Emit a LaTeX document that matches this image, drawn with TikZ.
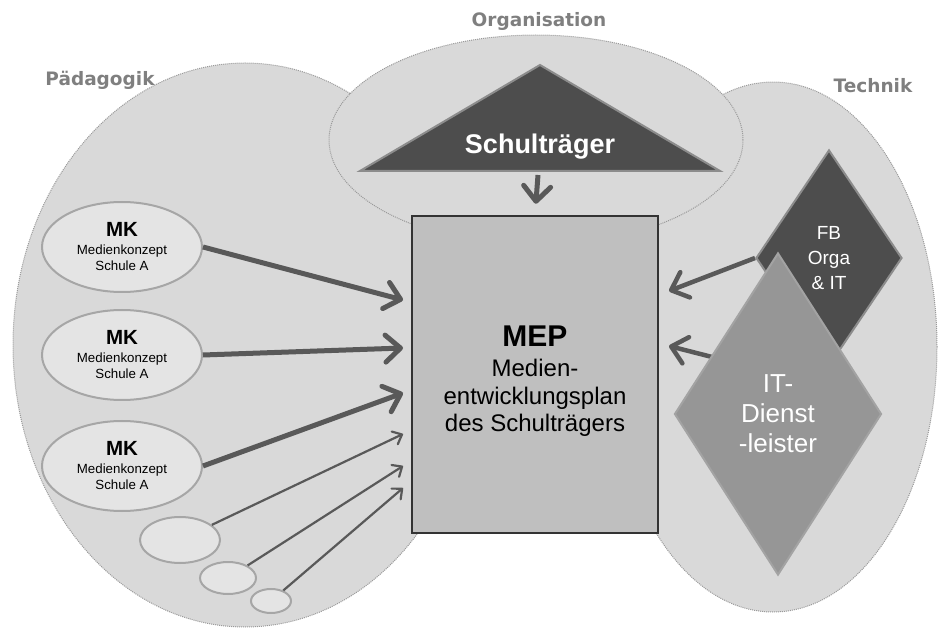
\documentclass[tikz,border=0pt]{standalone}
\usepackage{fontspec}
\setmainfont{Liberation Sans}
\newfontfamily\areafont{DejaVu Sans}
\usepackage{tikz}
\usetikzlibrary{positioning,shapes,arrows.meta}

\definecolor{areafill}{HTML}{D9D9D9}
\definecolor{dotline}{HTML}{9A9A9A}
\definecolor{labelgray}{HTML}{7F7F7F}
\definecolor{darkfill}{HTML}{4D4D4D}
\definecolor{darkline}{HTML}{8C8C8C}
\definecolor{mepfill}{HTML}{BFBFBF}
\definecolor{mepline}{HTML}{333333}
\definecolor{mkfill}{HTML}{E4E4E4}
\definecolor{mkline}{HTML}{A6A6A6}
\definecolor{itfill}{HTML}{969696}
\definecolor{itline}{HTML}{A3A3A3}
\definecolor{arrowgray}{HTML}{595959}

\begin{document}
\begin{tikzpicture}[x=1pt,y=-1pt,node distance=17pt,
    area/.style={ellipse,fill=areafill,draw=dotline,densely dotted,line width=1pt,inner sep=0pt},
    area label/.style={font=\areafont\bfseries\fontsize{18.5}{20}\selectfont,text=labelgray},
    mk node/.style={ellipse,fill=mkfill,draw=mkline,line width=2pt,minimum width=160pt,minimum height=90pt,
      inner sep=0pt,align=center,font=\fontsize{13.3}{16}\selectfont},
    small node/.style={ellipse,fill=mkfill,draw=mkline,line width=2pt,inner sep=0pt},
    big arrow/.style={-{Straight Barb[length=15pt,width=27pt,round]},line width=5pt,draw=arrowgray},
    thin arrow/.style={-{Straight Barb[length=8pt,width=14pt,round]},line width=2.2pt,draw=arrowgray}]
  \useasboundingbox (0,0) rectangle (938,628);

  % the three areas
  \node[area,minimum width=464pt,minimum height=564pt] (paed) at (245,345) {};
  \node[area,minimum width=328pt,minimum height=530pt] (tech) at (773,347) {};
  \node[area,minimum width=414pt,minimum height=210pt] (orga) at (536,140) {};
  \node[area label] (lpaed) at (100,80) {Pädagogik};
  \node[area label] (lorga) at (539,21) {Organisation};
  \node[area label] (ltech) at (873,86) {Technik};

  % Schultraeger
  \filldraw[fill=darkfill,draw=darkline,line width=2pt] (540,65) -- (720,171) -- (360,171) -- cycle;
  \node[text=white,font=\bfseries\fontsize{27}{30}\selectfont] (traeger) at (540,147) {Schulträger};
  \coordinate (tdown) at (538,175);

  % MEP
  \node[draw=mepline,fill=mepfill,line width=2.5pt,minimum width=246pt,minimum height=317pt,
    align=center,font=\fontsize{24}{27.5}\selectfont] (mep) at (535,374.5)
    {{\bfseries\fontsize{30}{30}\selectfont\rule{0pt}{34pt}MEP}\\[3pt]Medien-\\entwicklungsplan\\des Schulträgers};

  % Medienkonzepte
  \node[mk node] (mk1) at (122,247) {{\bfseries\fontsize{20.5}{20}\selectfont MK}\\[2pt]Medienkonzept\\Schule A};
  \node[mk node] (mk2) [below=16pt of mk1] {{\bfseries\fontsize{20.5}{20}\selectfont MK}\\[2pt]Medienkonzept\\Schule A};
  \node[mk node] (mk3) [below=19pt of mk2] {{\bfseries\fontsize{20.5}{20}\selectfont MK}\\[2pt]Medienkonzept\\Schule A};
  \node[small node,minimum width=80pt,minimum height=46pt] (s1) at (180,540) {};
  \node[small node,minimum width=56pt,minimum height=32pt] (s2) at (228,578) {};
  \node[small node,minimum width=40pt,minimum height=24pt] (s3) at (271,601) {};

  % Technik
  \node[diamond,fill=darkfill,draw=darkline,line width=2pt,minimum width=146pt,minimum height=216pt,
    inner sep=0pt,align=center,text=white,font=\fontsize{19}{25}\selectfont] (fb) at (829,258) {FB\\Orga\\\& IT};
  \coordinate (out2) at (669,346);
  \draw[big arrow,line width=4.5pt] (716,358) -- (out2);
  \node[diamond,fill=itfill,draw=itline,line width=2pt,minimum width=207pt,minimum height=322pt,
    inner sep=0pt,align=center,text=white,font=\fontsize{26}{30}\selectfont] (it) at (778,414) {IT-\\Dienst\\-leister};

  \coordinate (in1) at (403,300);
  \coordinate (in2) at (403,348);
  \coordinate (in3) at (403,393);
  \coordinate (in4) at (403,434);
  \coordinate (in5) at (403,466);
  \coordinate (in6) at (403,488);
  \coordinate (out1) at (669,291);

  \draw[big arrow] (tdown) -- (mep.north) [shorten >=11pt];
  \draw[big arrow] (mk1.east) -- (in1);
  \draw[big arrow] (mk2.east) -- (in2);
  \draw[big arrow] (mk3.east) -- (in3);
  \draw[thin arrow] (s1) -- (in4);
  \draw[thin arrow] (s2) -- (in5);
  \draw[thin arrow] (s3) -- (in6);
  \draw[big arrow,line width=4.5pt] (fb.west) -- (out1);
\end{tikzpicture}
\end{document}
